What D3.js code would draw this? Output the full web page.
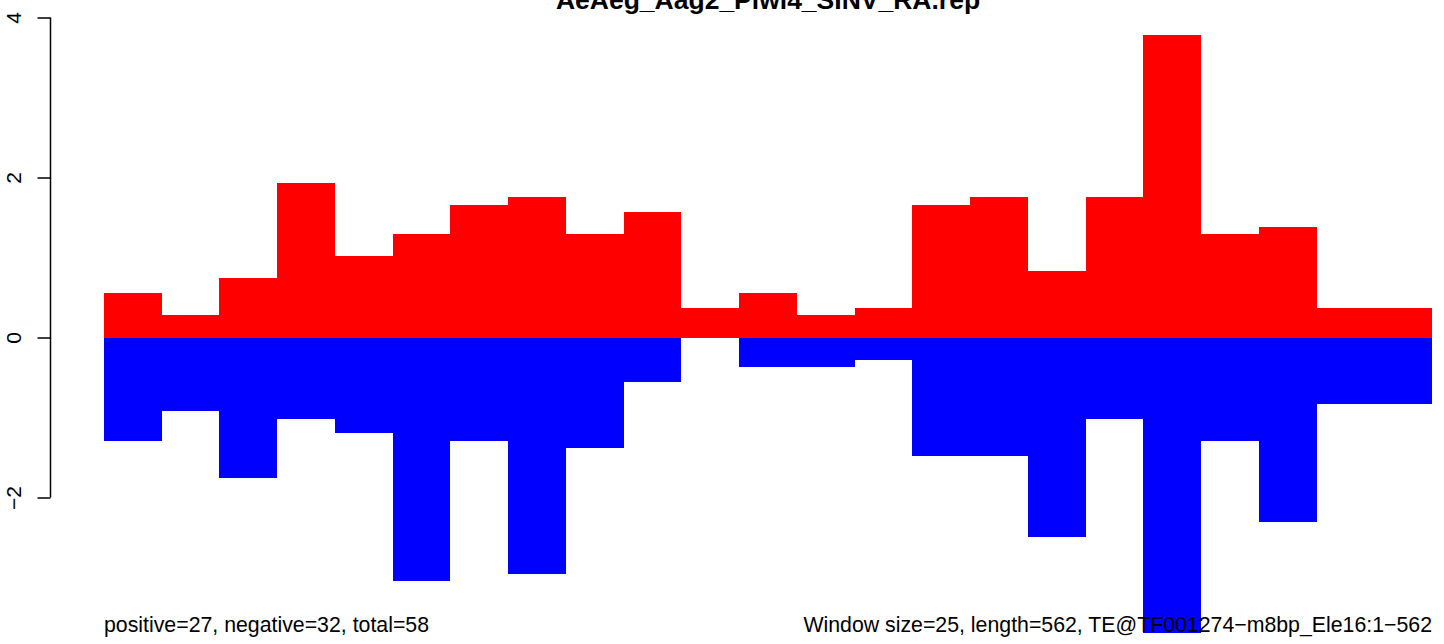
<!DOCTYPE html>
<html><head><meta charset="utf-8">
<script src="https://cdn.jsdelivr.net/npm/d3@7"></script>
<style>html,body{margin:0;padding:0;background:#fff;}svg{display:block;}</style>
</head><body>
<script>
// Window start positions (window size 25, length 562)
const windowStarts = [0,25,50,75,100,125,150,175,200,225,250,275,300,325,350,375,400,425,450,475,500,525,550];
const positiveValues = [0.553,0.277,0.738,1.936,1.014,1.291,1.660,1.752,1.291,1.568,0.369,0.553,0.277,0.369,1.660,1.752,0.830,1.752,3.781,1.291,1.383,0.369,0.369];
const negativeValues = [-1.291,-0.922,-1.752,-1.014,-1.199,-3.043,-1.291,-2.951,-1.383,-0.553,0,-0.369,-0.369,-0.277,-1.475,-1.475,-2.490,-1.014,-3.689,-1.291,-2.305,-0.830,-0.830];
const yTicks = [-2, 0, 2, 4];
const windowSize = 25;
const titleText = "AeAeg_Aag2_Piwi4_SINV_RA.rep";
const leftNote = "positive=27, negative=32, total=58";
const rightNote = "Window size=25, length=562, TE@TF001274\u2212m8bp_Ele16:1\u2212562";

const W = 1444, H = 644;
const svg = d3.select("body").append("svg").attr("width", W).attr("height", H);

const x = d3.scaleLinear().domain([0, windowStarts.length * windowSize]).range([104, 1432]);
const y = d3.scaleLinear().domain([-4, 4]).range([657.5, 17.5]);

// negative bars
svg.append("g").selectAll("rect").data(windowStarts.map((s, i) => ({s, v: negativeValues[i]})))
  .join("rect")
  .attr("x", d => x(d.s))
  .attr("width", d => x(d.s + windowSize) - x(d.s))
  .attr("y", y(0))
  .attr("height", d => y(d.v) - y(0))
  .attr("fill", "#0000ff")
  .attr("shape-rendering", "crispEdges");

// positive bars
svg.append("g").selectAll("rect").data(windowStarts.map((s, i) => ({s, v: positiveValues[i]})))
  .join("rect")
  .attr("x", d => x(d.s))
  .attr("width", d => x(d.s + windowSize) - x(d.s))
  .attr("y", d => y(d.v))
  .attr("height", d => y(0) - y(d.v))
  .attr("fill", "#ff0000")
  .attr("shape-rendering", "crispEdges");

// y axis
const axisX = 50.5;
const axis = d3.axisLeft(y).tickValues(yTicks).tickSize(13).tickSizeOuter(0).tickFormat(d => d < 0 ? "\u2212" + Math.abs(d) : String(d));
const gAxis = svg.append("g").attr("transform", `translate(${axisX},0)`).call(axis);
gAxis.select(".domain").remove();
gAxis.append("line").attr("x1", 0).attr("x2", 0)
  .attr("y1", y(d3.max(yTicks))).attr("y2", y(d3.min(yTicks)))
  .attr("stroke", "#000").attr("stroke-width", 1.5);
gAxis.selectAll(".tick line").attr("stroke", "#000").attr("stroke-width", 1.5);
gAxis.selectAll(".tick text")
  .attr("x", null).attr("dy", null)
  .attr("transform", "translate(-30,0) rotate(-90)")
  .attr("text-anchor", "middle")
  .attr("font-family", "Liberation Sans, Arial, Helvetica, sans-serif")
  .attr("font-size", 21)
  .attr("fill", "#000");

// title
svg.append("text").attr("x", (x.range()[0] + x.range()[1]) / 2).attr("y", 9)
  .attr("text-anchor", "middle")
  .attr("font-family", "Liberation Sans, Arial, Helvetica, sans-serif")
  .attr("font-weight", "bold").attr("font-size", 26.5)
  .text(titleText);

// notes
svg.append("text").attr("x", x.range()[0]).attr("y", 631.5)
  .attr("text-anchor", "start")
  .attr("font-family", "Liberation Sans, Arial, Helvetica, sans-serif")
  .attr("font-size", 21.3).text(leftNote);
svg.append("text").attr("x", x.range()[1]).attr("y", 631.5)
  .attr("text-anchor", "end")
  .attr("font-family", "Liberation Sans, Arial, Helvetica, sans-serif")
  .attr("font-size", 21.3).text(rightNote);
</script>
</body></html>
